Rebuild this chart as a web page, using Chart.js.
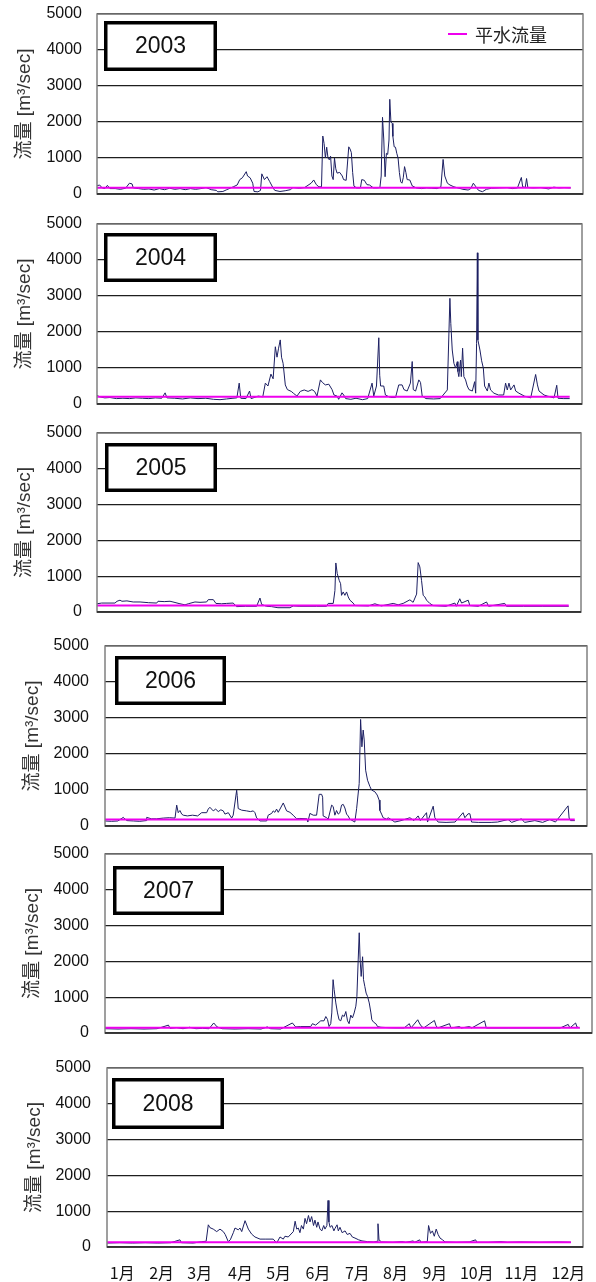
<!DOCTYPE html>
<html>
<head>
<meta charset="utf-8">
<script src="https://cdn.jsdelivr.net/npm/chart.js@4.4.1/dist/chart.umd.min.js"></script>
<style>
  body { margin: 0; background: #fff; width: 596px; height: 1282px; position: relative; overflow: hidden; }
  canvas { position: absolute; left: 0; }
</style>
</head>
<body>
<canvas id="c0"></canvas>
<canvas id="c1"></canvas>
<canvas id="c2"></canvas>
<canvas id="c3"></canvas>
<canvas id="c4"></canvas>
<canvas id="c5"></canvas>
<script>
// data: [day of year, flow m3/sec]
const years = ["2003", "2004", "2005", "2006", "2007", "2008"];
const meanFlow = [175, 200, 185, 180, 145, 130];
const yTicks = [0, 1000, 2000, 3000, 4000, 5000];
const monthLabels = ["1月", "2月", "3月", "4月", "5月", "6月", "7月", "8月", "9月", "10月", "11月", "12月"];
const monthTickDays = [12, 43, 73, 105, 135, 166, 197, 227, 258, 291, 326, 363];

const q2003 = [[0,230],[2,250],[4,170],[6,150],[8,240],[10,150],[14,150],[18,130],[22,160],[25,300],[27,280],[28,170],[32,150],[36,130],[40,140],[44,110],[48,150],[52,120],[56,160],[60,130],[64,150],[68,120],[72,150],[76,130],[80,150],[84,180],[88,120],[92,100],[93,60],[97,70],[100,120],[105,200],[108,250],[110,400],[112,450],[115,620],[116,500],[118,450],[120,300],[121,70],[124,60],[126,100],[127,560],[129,400],[131,480],[133,350],[135.5,180],[137,100],[141,70],[145,90],[149,120],[151,180],[156,160],[160,180],[165,300],[167,390],[169,260],[171,200],[173,200],[174,1610],[175,1400],[176,1000],[177,1300],[178,1000],[179,950],[180,1050],[181,500],[182,400],[183,1000],[184,700],[185,580],[187,600],[189,500],[190,400],[192,380],[194,1310],[195,1250],[196,1150],[197,600],[198,220],[200,170],[203,170],[204,400],[206,380],[208,260],[210,250],[213,170],[216,170],[218,180],[219,500],[220,2130],[221,1500],[222,480],[223,1130],[224,1100],[225,1500],[225.6,2630],[226.5,2000],[227.5,1960],[228,1600],[229,1310],[230,1300],[231,1130],[232,1000],[233,600],[234,340],[235,300],[236,450],[237,760],[238,600],[239,400],[241,390],[243,220],[246,170],[250,150],[254,170],[258,160],[262,150],[265,200],[266.7,960],[268,500],[270,300],[272,250],[275,200],[279,160],[282,130],[286,110],[288,150],[290,300],[292,200],[294,100],[297,64],[300,130],[304,160],[310,170],[316,180],[320,150],[324,170],[327,460],[328,200],[330,180],[331,430],[332,180],[336,170],[342,180],[348,140],[352,190],[356,170],[360,180],[365,170]];

const q2004 = [[0,240],[2,200],[6,170],[10,180],[15,150],[20,160],[25,150],[30,170],[35,160],[40,150],[45,170],[50,160],[52.6,310],[54,170],[60,160],[66,140],[72,170],[78,150],[84,160],[90,130],[95,120],[100,140],[105,160],[108,170],[109.8,580],[111,160],[115,150],[117.8,360],[119,150],[124.5,220],[128,200],[130,580],[132,500],[134.3,830],[136,700],[137.7,1590],[139,1300],[140.2,1550],[141.5,1780],[142.5,1300],[143.7,1130],[145.4,530],[147,400],[150,350],[151.6,300],[154.4,220],[157,350],[160,390],[163,350],[166,400],[168,350],[169.9,220],[172.5,670],[174,600],[176.3,530],[179,550],[181.5,400],[183,250],[185.4,220],[186.6,130],[189.2,310],[190.5,250],[192,150],[196,130],[200,160],[205,120],[209,150],[212.4,580],[213.7,220],[215.8,500],[217.6,1840],[218.3,800],[219,500],[221.4,500],[222.7,250],[226.6,180],[230.5,180],[233,530],[235.6,530],[237,400],[239.5,360],[242,580],[243.4,1180],[244.2,400],[246,360],[248.5,670],[249.8,600],[251.1,220],[254,150],[260,140],[265,150],[270.5,390],[272.5,2935],[273.2,2240],[274.3,1500],[275.6,1130],[276.9,1000],[278.2,1175],[278.7,900],[279.4,760],[280.7,1220],[281.3,760],[282.3,1550],[283.3,760],[284.6,670],[285.9,500],[287.2,400],[289.8,360],[291.6,620],[292.4,300],[293.1,1685],[293.7,4200],[294.1,1780],[295.7,1500],[297,1200],[298.3,1000],[299.3,500],[301.4,360],[302.6,580],[303.9,390],[306.5,300],[310,250],[314,250],[315.5,580],[316.8,390],[318.1,580],[319.4,390],[322,530],[323.3,360],[325.8,300],[330,220],[334.9,170],[338.7,820],[340.1,530],[341.3,360],[345.2,250],[347.8,220],[352.9,170],[355,520],[356,160],[360,150],[365,150]];

const q2005 = [[0,230],[3.6,250],[13.9,250],[15.5,300],[17.8,330],[19.3,300],[23.2,310],[28,280],[33.3,280],[40,260],[46.2,250],[47.2,300],[52,290],[56.5,300],[58.8,280],[64.2,230],[68.1,200],[70.6,230],[75.8,280],[79.7,270],[84.8,280],[86.1,345],[90,345],[92,240],[96.4,230],[100.3,240],[105.4,250],[108,150],[115,160],[123.5,160],[126.1,390],[127.4,210],[131.2,160],[135.1,150],[140,120],[149.3,120],[151.8,170],[157,160],[170,160],[177.6,160],[178.9,240],[182.8,240],[184.1,600],[184.8,1370],[185.9,1070],[187.4,885],[188.5,790],[189.2,465],[190.5,560],[191.8,465],[193.1,560],[194.4,420],[195.7,330],[198.2,250],[199.5,180],[210,170],[215,230],[220,170],[229.2,240],[233,200],[236.9,240],[242.1,340],[244.6,270],[247.3,500],[248.5,1380],[249.8,1260],[251.1,885],[252.4,465],[253.7,420],[255,330],[257.5,240],[260.1,180],[270,160],[276.9,250],[278,160],[280.7,370],[282.1,250],[287.2,330],[288.5,180],[295,160],[301.4,280],[303,160],[315.5,240],[316.8,160],[330,160],[345,160],[365,160]];

const q2006 = [[0,140],[5,130],[10,140],[14.2,240],[16.9,150],[22,140],[27,130],[32,150],[32.4,240],[36,200],[40,200],[45.3,220],[50,230],[54.4,220],[55.7,580],[56.9,370],[58.2,430],[59.6,330],[60.8,300],[64,280],[68,300],[72,280],[75.1,370],[79,370],[80.2,470],[81.5,520],[84.1,420],[86,470],[88,400],[90,450],[91.9,420],[93.2,330],[95.8,370],[98.4,220],[99.6,300],[102.3,995],[102.7,850],[103.5,485],[106.2,440],[110,420],[113,400],[115.2,420],[116.5,370],[117.8,225],[120.4,140],[125.6,140],[126.8,300],[129.5,350],[130.7,420],[132,380],[133.3,470],[134.6,380],[138.5,640],[141.1,420],[143.7,380],[146.2,300],[148.9,200],[151.4,210],[156.9,200],[157.6,110],[159.2,350],[161.8,300],[164.4,300],[166.4,880],[168.3,880],[169.1,800],[169.5,280],[172.2,230],[173.4,190],[176.1,580],[177.3,540],[178.6,300],[179.9,430],[181.2,330],[182.5,370],[183.8,580],[185.1,600],[186.4,500],[187.7,330],[188.9,280],[190.3,190],[194.1,110],[195.5,480],[197.5,1180],[198.6,2960],[199.6,2200],[200.6,2665],[201.4,2390],[202.5,1550],[204,1270],[205.8,1100],[207.1,1000],[209.7,950],[211.5,860],[213,720],[213.6,430],[214.9,330],[216.1,230],[218.8,190],[220,230],[225.2,110],[230,150],[236.9,230],[240,150],[243.3,280],[245,150],[249.8,370],[250.6,110],[255,550],[256.3,230],[258.8,110],[265,100],[272,110],[278.2,370],[279.6,230],[282.1,340],[283.5,340],[284.8,110],[290,100],[300,100],[305,110],[313.2,180],[316,100],[323.6,200],[326,100],[334,150],[340,100],[345.6,180],[350,110],[359.8,560],[360.6,220],[361.7,150],[365,150]];

const q2007 = [[0,120],[10,110],[20,120],[30,110],[40,120],[48.8,220],[50,130],[55,150],[60,120],[65,160],[70,120],[75,130],[80,120],[83.6,280],[86.2,170],[90,120],[100,110],[110,120],[120,110],[124.8,170],[127.3,120],[135,110],[144.1,280],[146.6,170],[150.5,180],[158.2,180],[159.5,260],[162,220],[165.9,340],[168.4,340],[169.8,460],[171.1,380],[172.3,180],[173.6,260],[174.4,560],[175.4,1490],[176.2,1210],[177.5,840],[178.8,560],[180,370],[181.3,340],[182.6,500],[183.9,460],[185.2,600],[186.5,340],[187.7,260],[189,500],[190.3,420],[191.6,560],[192.9,750],[193.7,1020],[194.7,2040],[195.5,2800],[196.2,2040],[197,1580],[198.1,2130],[198.8,1490],[199.8,1300],[200.8,1115],[201.9,1020],[203.2,840],[204.5,560],[205.2,370],[206.6,300],[208.3,260],[209.6,180],[212.2,160],[220,145],[230,140],[234,260],[235.3,140],[240.5,370],[241.7,280],[243,200],[245,140],[253.3,350],[254.6,200],[255.9,140],[264.9,260],[266,140],[272.6,180],[274,140],[280.3,180],[282,140],[291.9,340],[293.2,140],[310,140],[330,140],[350,140],[356.2,240],[357.5,140],[361.9,280],[362.9,170],[365,140]];

const q2008 = [[0,110],[10,120],[20,110],[30,120],[40,110],[50,120],[57.4,200],[58.5,120],[67.9,110],[74.5,150],[78,160],[79.7,620],[81,540],[83.6,500],[86.3,430],[88.9,500],[91.5,430],[93,350],[95.4,150],[97,200],[99.4,400],[100.7,530],[103.3,480],[104.6,530],[106,430],[108.6,735],[111.2,500],[113.8,360],[116.4,280],[120.4,220],[125,220],[130.8,220],[133.5,110],[136.1,280],[138.7,220],[140,300],[142.6,280],[146.6,430],[148,720],[149.3,500],[150.5,530],[151.8,400],[153,600],[154.5,500],[155.8,800],[157,650],[158.5,880],[159.7,700],[161,850],[162.5,600],[163.6,750],[165,550],[166,700],[167.6,500],[169,450],[170.5,600],[171.5,500],[173,600],[173.9,1300],[174.6,700],[175.5,550],[177,600],[178.5,450],[179.4,520],[181,620],[182,450],[183.3,550],[185,400],[187.3,450],[189,350],[191.2,380],[193,280],[195.1,250],[198,200],[200.6,170],[205,150],[210,140],[212.5,160],[213.2,650],[214,200],[216,140],[225,130],[232,150],[235,130],[241,170],[242,130],[246,200],[247,130],[252,150],[253,600],[254.5,380],[256,450],[257.5,300],[259,500],[260.5,350],[262,250],[264,200],[266,140],[275,130],[285,140],[290,200],[291,130],[300,130],[310,150],[315,130],[325,140],[340,130],[355,140],[365,130]];

const flows = [q2003, q2004, q2005, q2006, q2007, q2008];

// plot-area placement of each panel on the page
const panels = [
  { l: 97,  t: 14,   r: 583, b: 194,  box: [7, 7, 113, 50],   titleX: 25, pad: 15 },
  { l: 97,  t: 224,  r: 582, b: 404,  box: [7, 9, 113, 49],   titleX: 25, pad: 15 },
  { l: 97,  t: 433,  r: 581, b: 612,  box: [8, 10, 112, 49],  titleX: 25, pad: 15 },
  { l: 105, t: 646,  r: 587, b: 826,  box: [10, 10, 111, 49], titleX: 33, pad: 16 },
  { l: 105, t: 854,  r: 592, b: 1033, box: [8, 12, 111, 49],  titleX: 33, pad: 16 },
  { l: 107, t: 1068, r: 583, b: 1247, box: [5, 10, 112, 51],  titleX: 35, pad: 16 }
];
const edge = 28; // canvas margin above/below each plot area

const decoPlugin = {
  id: "deco",
  afterDraw(chart, args, opts) {
    const { ctx, chartArea: a } = chart;
    ctx.save();
    ctx.lineWidth = 1.5;
    ctx.strokeStyle = "#808080";
    ctx.strokeRect(a.left, a.top, a.right - a.left, a.bottom - a.top);
    ctx.strokeStyle = "#222";
    ctx.beginPath();
    ctx.moveTo(a.left, a.bottom);
    ctx.lineTo(a.right, a.bottom);
    ctx.stroke();

    const [bx, by, bw, bh] = opts.box;
    ctx.fillStyle = "#fff";
    ctx.fillRect(a.left + bx, a.top + by, bw, bh);
    ctx.lineWidth = 3.5;
    ctx.strokeStyle = "#000";
    ctx.strokeRect(a.left + bx + 1.75, a.top + by + 1.75, bw - 3.5, bh - 3.5);
    ctx.fillStyle = "#111";
    ctx.font = '23px "Liberation Sans", Arial, sans-serif';
    ctx.textAlign = "center";
    ctx.textBaseline = "middle";
    ctx.fillText(opts.year, a.left + bx + bw / 2, a.top + by + bh / 2 + 1);

    if (opts.legend) {
      const ds = chart.data.datasets[0];
      const ly = a.top + 20;
      ctx.strokeStyle = ds.borderColor;
      ctx.lineWidth = 2;
      ctx.beginPath();
      ctx.moveTo(a.left + 351, ly);
      ctx.lineTo(a.left + 370, ly);
      ctx.stroke();
      ctx.fillStyle = "#222";
      ctx.font = '18px "Noto Sans CJK JP", sans-serif';
      ctx.textAlign = "left";
      ctx.fillText(ds.label, a.left + 378, ly + 1);
    }
    ctx.restore();
  }
};

panels.forEach((p, i) => {
  const last = i === panels.length - 1;
  const canvas = document.getElementById("c" + i);
  const top = p.t - edge;
  const height = last ? 1282 - top : p.b - p.t + 2 * edge;
  canvas.width = 596;
  canvas.height = height;
  canvas.style.top = top + "px";

  new Chart(canvas, {
    type: "line",
    data: {
      datasets: [
        {
          label: "平水流量",
          data: [{ x: 0, y: meanFlow[i] }, { x: 365, y: meanFlow[i] }],
          borderColor: "#ee00ee",
          borderWidth: 2,
          pointRadius: 0
        },
        {
          label: "流量",
          data: flows[i].map(d => ({ x: d[0], y: d[1] })),
          borderColor: "#1c1f62",
          borderWidth: 1,
          pointRadius: 0,
          tension: 0
        }
      ]
    },
    options: {
      responsive: false,
      animation: false,
      events: [],
      layout: { padding: { left: 0, right: 596 - p.r, top: edge, bottom: last ? 0 : edge } },
      plugins: {
        legend: { display: false },
        tooltip: { enabled: false },
        deco: { year: years[i], box: p.box, legend: i === 0 }
      },
      scales: {
        x: {
          type: "linear",
          min: 0,
          max: 374.5,
          display: last,
          grid: { display: false },
          border: { display: false },
          afterBuildTicks: s => { s.ticks = monthTickDays.map(v => ({ value: v })); },
          afterFit: s => { s.height = last ? 35 : 0; },
          ticks: {
            autoSkip: false,
            maxRotation: 0,
            padding: 8,
            color: "#111",
            font: { family: '"Noto Sans CJK JP", sans-serif', size: 16 },
            callback: (v, idx) => monthLabels[idx]
          }
        },
        y: {
          min: 0,
          max: 5000,
          afterBuildTicks: s => { s.ticks = yTicks.map(v => ({ value: v })); },
          afterFit: s => { s.width = p.l; },
          grid: { color: "#1e1e1e", lineWidth: 1.2, drawTicks: false },
          border: { display: false },
          ticks: {
            padding: p.pad,
            color: "#111",
            font: { family: '"Liberation Sans", Arial, sans-serif', size: 16 },
            callback: v => String(v)
          },
          title: {
            display: true,
            text: "流量 [m³/sec]",
            color: "#333",
            padding: { top: p.titleX - 11.4, bottom: 0 },
            font: { family: '"Liberation Sans", "Noto Sans CJK JP", sans-serif', size: 19 }
          }
        }
      }
    },
    plugins: [decoPlugin]
  });
});
</script>
</body>
</html>
